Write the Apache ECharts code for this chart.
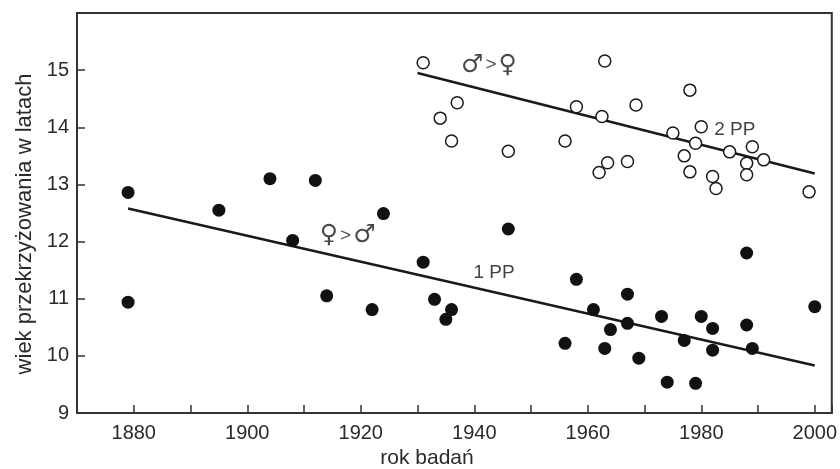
<!DOCTYPE html>
<html>
<head>
<meta charset="utf-8">
<script src="https://cdn.jsdelivr.net/npm/echarts@6/dist/echarts.min.js"></script>
<style>
  html, body { margin: 0; padding: 0; background: #fff; }
  #main { width: 840px; height: 469px; }
</style>
</head>
<body>
<div id="main"></div>
<script>
// 1 PP - filled points [year, age]
const pp1Points = [
  [1879, 12.86], [1879, 10.94], [1895, 12.55], [1904, 13.10], [1908, 12.02],
  [1912, 13.07], [1914, 11.05], [1922, 10.81], [1924, 12.49], [1931, 11.64],
  [1933, 10.99], [1935, 10.64], [1936, 10.81], [1946, 12.22], [1956, 10.22],
  [1958, 11.34], [1961, 10.81], [1963, 10.13], [1964, 10.46], [1967, 11.08],
  [1967, 10.57], [1969, 9.96], [1973, 10.69], [1974, 9.54], [1977, 10.27],
  [1979, 9.52], [1980, 10.69], [1982, 10.48], [1982, 10.10], [1988, 11.80],
  [1988, 10.54], [1989, 10.13], [2000, 10.86]
];
// 2 PP - open points
const pp2Points = [
  [1931, 15.13], [1934, 14.16], [1936, 13.76], [1937, 14.43], [1946, 13.58],
  [1956, 13.76], [1958, 14.36], [1962, 13.21], [1962.5, 14.19], [1963, 15.16],
  [1963.5, 13.38], [1967, 13.40], [1968.5, 14.39], [1975, 13.90], [1977, 13.50],
  [1978, 14.65], [1978, 13.22], [1979, 13.72], [1980, 14.01], [1982, 13.14],
  [1982.6, 12.93], [1985, 13.57], [1988, 13.37], [1988, 13.17], [1989, 13.66],
  [1991, 13.43], [1999, 12.87]
];
// regression lines
const pp1Trend = [[1879, 12.58], [2000, 9.83]];
const pp2Trend = [[1930, 14.95], [2000, 13.19]];
// text labels in the plot [year, age, text]
const genderNotes = [
  [1942.6, 15.09, '♂', '♀'],
  [1917.7, 12.10, '♀', '♂']
];
const ppNotes = [
  [1943.5, 11.46, '1 PP'],
  [1985.9, 13.95, '2 PP']
];
const xTickLabels = [1880, 1900, 1920, 1940, 1960, 1980, 2000];
const yTickLabels = [9, 10, 11, 12, 13, 14, 15];

const ink = '#1a1a1a';
const font = 'Liberation Sans, Arial, sans-serif';

const chart = echarts.init(document.getElementById('main'));

const option = {
  backgroundColor: '#fff',
  animation: false,
  grid: {
    left: 77, right: 8, top: 13, bottom: 56,
    show: true, borderColor: '#333', borderWidth: 2, backgroundColor: 'transparent'
  },
  xAxis: {
    type: 'value',
    min: 1870, max: 2003, interval: 10,
    axisLine: { lineStyle: { color: '#333', width: 2 } },
    axisTick: { inside: true, length: 8, lineStyle: { color: '#333', width: 1.5 } },
    splitLine: { show: false },
    axisLabel: {
      color: '#2a2a2a', fontFamily: font, fontSize: 20, margin: 10,
      formatter: v => xTickLabels.includes(v) ? String(v) : ''
    }
  },
  yAxis: {
    type: 'value',
    min: 9, max: 16, interval: 1,
    axisLine: { lineStyle: { color: '#333', width: 2 } },
    axisTick: { inside: true, length: 8, lineStyle: { color: '#333', width: 1.5 } },
    splitLine: { show: false },
    axisLabel: {
      color: '#2a2a2a', fontFamily: font, fontSize: 20, margin: 8,
      formatter: v => yTickLabels.includes(v) ? String(v) : ''
    }
  },
  graphic: [
    {
      type: 'text', x: 427, y: 458,
      style: { text: 'rok badań', fill: '#2a2a2a', font: '21px ' + font, align: 'center', verticalAlign: 'middle' }
    },
    {
      type: 'text', x: 25, y: 224, rotation: Math.PI / 2,
      style: { text: 'wiek przekrzyżowania w latach', fill: '#2a2a2a', font: '22px ' + font, align: 'center', verticalAlign: 'middle' }
    }
  ],
  series: [
    {
      type: 'line', data: pp1Trend, symbol: 'none',
      lineStyle: { color: ink, width: 2.5 }, z: 2
    },
    {
      type: 'line', data: pp2Trend, symbol: 'none',
      lineStyle: { color: ink, width: 2.5 }, z: 2
    },
    {
      type: 'scatter', data: pp1Points, symbol: 'circle', symbolSize: 13,
      itemStyle: { color: '#111', opacity: 1 }, z: 3
    },
    {
      type: 'scatter', data: pp2Points, symbol: 'circle', symbolSize: 12,
      itemStyle: { color: '#fff', borderColor: ink, borderWidth: 1.5, opacity: 1 }, z: 3
    },
    {
      type: 'scatter', symbolSize: 0, z: 4, silent: true,
      data: ppNotes.map(n => ({ value: [n[0], n[1]], name: n[2] })),
      label: {
        show: true, position: 'inside', formatter: p => p.name,
        color: '#111', fontFamily: font, fontSize: 19
      }
    },
    {
      type: 'scatter', symbolSize: 0, z: 4, silent: true,
      data: genderNotes.map(n => ({ value: [n[0], n[1]], name: n[2] + '|' + n[3] })),
      label: {
        show: true, position: 'inside',
        formatter: p => {
          const s = p.name.split('|');
          return '{g|' + s[0] + '}{o|>}{g|' + s[1] + '}';
        },
        rich: {
          g: { fontFamily: 'DejaVu Sans', fontSize: 25, color: ink },
          o: { fontFamily: font, fontSize: 19, color: ink, padding: [0, 2, 0, 2] }
        }
      }
    }
  ]
};

option && chart.setOption(option);
</script>
</body>
</html>
